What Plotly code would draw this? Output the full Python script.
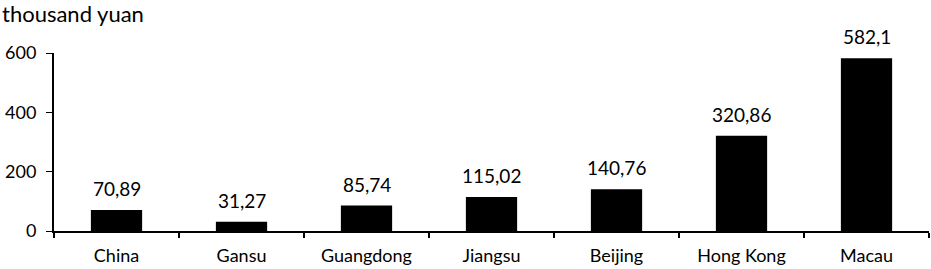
import plotly.graph_objects as go

categories = ["China", "Gansu", "Guangdong", "Jiangsu", "Beijing", "Hong Kong", "Macau"]
values = [70.89, 31.27, 85.74, 115.02, 140.76, 320.86, 582.1]
labels = ["70,89", "31,27", "85,74", "115,02", "140,76", "320,86", "582,1"]
y_ticks = [0, 200, 400, 600]
y_title = "thousand yuan"

FONT = "Lato, Carlito, Calibri, sans-serif"
FS = 18

fig = go.Figure(go.Bar(x=categories, y=values, marker=dict(color="black", line=dict(width=0)),
                       width=0.41, hoverinfo="skip"))

for c, v, t in zip(categories, values, labels):
    fig.add_annotation(x=c, y=v, text=t, showarrow=False, yanchor="bottom", yshift=8,
                       font=dict(family=FONT, size=19, color="black"))

fig.add_annotation(xref="paper", yref="paper", x=0, y=1, xanchor="left", yanchor="top",
                   xshift=-54, yshift=55, text=y_title, showarrow=False,
                   font=dict(family=FONT, size=22, color="black"))

fig.update_layout(
    width=931, height=269,
    margin=dict(l=54, r=2, t=53, b=38),
    paper_bgcolor="white", plot_bgcolor="white",
    showlegend=False,
    font=dict(family=FONT, size=FS, color="black"),
    xaxis=dict(showline=True, linecolor="black", linewidth=1.5, ticks="outside", tickson="boundaries",
               ticklen=5, tickwidth=2, tickcolor="black", showgrid=False, zeroline=False,
               automargin=False, ticklabelstandoff=8,
               tickfont=dict(family=FONT, size=FS, color="black")),
    yaxis=dict(range=[0, 600], tickvals=y_ticks, showline=True, linecolor="black", linewidth=2,
               ticks="outside", ticklen=6, tickwidth=1, tickcolor="black", showgrid=False,
               zeroline=False, automargin=False, ticklabelstandoff=6,
               tickfont=dict(family=FONT, size=FS, color="black")),
)
fig.update_traces(cliponaxis=False)

fig.write_html("out.html", config={"displayModeBar": False, "staticPlot": True},
               post_script="document.body.style.margin='0';document.body.style.overflow='hidden';")
